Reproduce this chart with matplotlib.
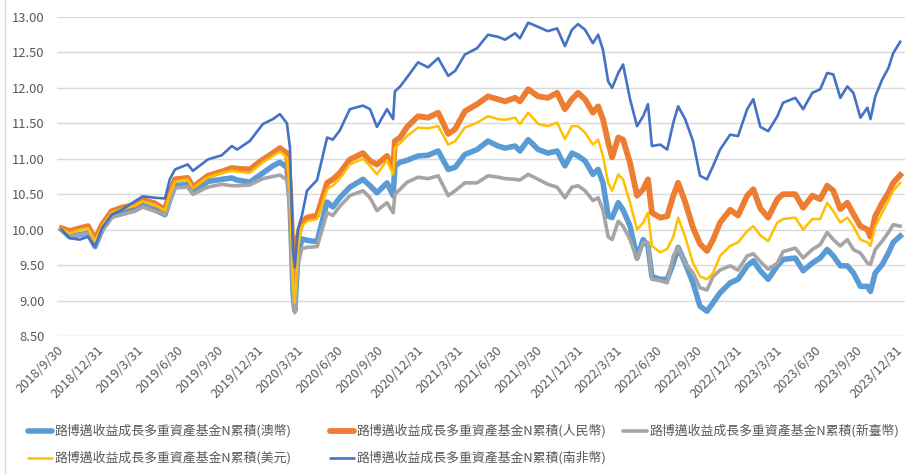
import datetime as dt
import matplotlib
matplotlib.use("Agg")
import matplotlib.pyplot as plt
from matplotlib.lines import Line2D

plt.rcParams['font.family'] = ['Noto Sans CJK TC', 'DejaVu Sans']

# ---- data ----
dates = [
    "2018-09-30", "2018-10-18", "2018-11-10", "2018-11-29", "2018-12-15", "2018-12-31",
    "2019-01-22", "2019-02-14", "2019-03-16", "2019-04-03", "2019-05-01", "2019-05-24",
    "2019-06-04", "2019-06-16", "2019-07-15", "2019-07-27", "2019-08-30", "2019-10-01",
    "2019-10-24", "2019-11-05", "2019-12-04", "2020-01-03", "2020-01-26", "2020-02-11",
    "2020-02-27", "2020-03-05", "2020-03-09", "2020-03-12", "2020-03-16", "2020-03-23",
    "2020-04-01", "2020-04-13", "2020-05-06", "2020-05-29", "2020-06-11", "2020-06-27",
    "2020-07-20", "2020-08-19", "2020-09-04", "2020-09-20", "2020-10-13", "2020-10-27",
    "2020-10-31", "2020-11-12", "2020-11-28", "2020-12-23", "2021-01-15", "2021-02-07",
    "2021-03-02", "2021-03-18", "2021-04-09", "2021-05-07", "2021-06-01", "2021-06-24",
    "2021-07-10", "2021-08-02", "2021-08-13", "2021-09-01", "2021-09-24", "2021-10-16",
    "2021-11-06", "2021-11-24", "2021-12-10", "2021-12-24", "2022-01-09", "2022-01-27",
    "2022-02-08", "2022-02-19", "2022-03-03", "2022-03-12", "2022-03-26", "2022-04-06",
    "2022-04-22", "2022-05-08", "2022-05-22", "2022-06-02", "2022-06-11", "2022-06-30",
    "2022-07-16", "2022-07-30", "2022-08-10", "2022-08-26", "2022-09-13", "2022-09-29",
    "2022-10-15", "2022-10-29", "2022-11-14", "2022-12-07", "2022-12-25", "2023-01-15",
    "2023-01-29", "2023-02-14", "2023-03-04", "2023-03-25", "2023-04-07", "2023-05-05",
    "2023-05-23", "2023-06-13", "2023-07-01", "2023-07-17", "2023-07-31", "2023-08-16",
    "2023-09-01", "2023-09-15", "2023-10-01", "2023-10-17", "2023-10-24", "2023-11-04",
    "2023-11-20", "2023-12-04", "2023-12-15", "2023-12-31",
]

aud = [
    10.00, 9.90, 9.93, 9.95, 9.76, 10.00, 10.19, 10.24, 10.28, 10.34, 10.28, 10.21,
    10.42, 10.62, 10.64, 10.52, 10.68, 10.71, 10.73, 10.70, 10.67, 10.80, 10.90, 10.95,
    10.88, 10.40, 9.70, 9.10, 8.86, 9.60, 9.87, 9.85, 9.83, 10.39, 10.32, 10.45,
    10.60, 10.71, 10.62, 10.52, 10.66, 10.48, 10.90, 10.95, 10.98, 11.04, 11.05, 11.11,
    10.85, 10.88, 11.06, 11.13, 11.25, 11.18, 11.15, 11.18, 11.11, 11.27, 11.13, 11.08,
    11.11, 10.90, 11.08, 11.04, 10.97, 10.78, 10.85, 10.66, 10.19, 10.17, 10.38, 10.28,
    10.05, 9.60, 9.86, 9.77, 9.34, 9.30, 9.30, 9.53, 9.75, 9.53, 9.25, 8.92,
    8.85, 8.97, 9.11, 9.25, 9.30, 9.49, 9.56, 9.42, 9.30, 9.49, 9.58, 9.60,
    9.42, 9.53, 9.60, 9.72, 9.63, 9.49, 9.49, 9.39, 9.20, 9.20, 9.13, 9.39,
    9.51, 9.67, 9.82, 9.91,
]

cny = [
    10.02, 9.98, 10.02, 10.05, 9.86, 10.07, 10.26, 10.31, 10.35, 10.42, 10.37, 10.28,
    10.52, 10.71, 10.73, 10.60, 10.76, 10.82, 10.87, 10.86, 10.85, 10.99, 11.08, 11.15,
    11.08, 10.60, 10.00, 9.50, 9.30, 9.90, 10.10, 10.17, 10.20, 10.66, 10.71, 10.80,
    10.99, 11.08, 10.97, 10.92, 11.04, 10.85, 11.25, 11.30, 11.45, 11.60, 11.58, 11.65,
    11.35, 11.42, 11.67, 11.77, 11.88, 11.84, 11.81, 11.86, 11.81, 11.98, 11.88, 11.86,
    11.93, 11.70, 11.84, 11.93, 11.84, 11.65, 11.74, 11.56, 11.23, 11.02, 11.30, 11.27,
    10.94, 10.48, 10.57, 10.71, 10.24, 10.17, 10.19, 10.48, 10.66, 10.39, 10.03, 9.80,
    9.70, 9.86, 10.10, 10.28, 10.20, 10.48, 10.57, 10.30, 10.17, 10.43, 10.50, 10.50,
    10.31, 10.48, 10.43, 10.62, 10.55, 10.29, 10.38, 10.22, 10.05, 10.00, 9.90, 10.19,
    10.38, 10.52, 10.66, 10.77,
]

twd = [
    10.00, 9.90, 9.93, 9.95, 9.76, 9.98, 10.17, 10.21, 10.26, 10.32, 10.26, 10.21,
    10.40, 10.59, 10.60, 10.50, 10.60, 10.64, 10.62, 10.62, 10.63, 10.72, 10.75, 10.77,
    10.70, 10.30, 9.60, 9.05, 8.83, 9.50, 9.73, 9.75, 9.76, 10.24, 10.20, 10.33,
    10.48, 10.55, 10.45, 10.27, 10.38, 10.24, 10.50, 10.57, 10.67, 10.74, 10.72, 10.76,
    10.48, 10.55, 10.66, 10.66, 10.76, 10.74, 10.72, 10.71, 10.70, 10.78, 10.71, 10.64,
    10.60, 10.45, 10.60, 10.62, 10.55, 10.41, 10.45, 10.28, 9.90, 9.86, 10.12, 10.05,
    9.86, 9.58, 9.82, 9.82, 9.30, 9.28, 9.25, 9.63, 9.75, 9.53, 9.39, 9.18,
    9.15, 9.34, 9.43, 9.49, 9.43, 9.63, 9.66, 9.55, 9.44, 9.53, 9.69, 9.74,
    9.60, 9.72, 9.79, 9.96, 9.86, 9.77, 9.86, 9.72, 9.67, 9.53, 9.51, 9.72,
    9.84, 9.96, 10.07, 10.05,
]

usd = [
    10.01, 9.95, 10.00, 10.02, 9.84, 10.05, 10.24, 10.29, 10.34, 10.40, 10.35, 10.27,
    10.50, 10.68, 10.71, 10.59, 10.74, 10.80, 10.83, 10.82, 10.80, 10.95, 11.04, 11.10,
    11.02, 10.50, 9.80, 9.20, 8.97, 9.75, 10.05, 10.12, 10.15, 10.57, 10.62, 10.72,
    10.92, 11.00, 10.90, 10.78, 10.98, 10.78, 11.15, 11.22, 11.32, 11.44, 11.43, 11.46,
    11.20, 11.25, 11.44, 11.51, 11.60, 11.56, 11.55, 11.58, 11.49, 11.65, 11.49, 11.46,
    11.51, 11.28, 11.46, 11.46, 11.37, 11.20, 11.27, 11.04, 10.66, 10.55, 10.78, 10.71,
    10.38, 10.00, 10.10, 10.24, 9.77, 9.68, 9.73, 9.90, 10.17, 9.90, 9.53, 9.34,
    9.30, 9.39, 9.63, 9.77, 9.82, 9.98, 10.05, 9.92, 9.84, 10.10, 10.15, 10.17,
    10.00, 10.15, 10.15, 10.38, 10.26, 10.10, 10.17, 10.05, 9.86, 9.82, 9.77, 10.05,
    10.24, 10.41, 10.55, 10.66,
]

zar = [
    10.00, 9.88, 9.86, 9.90, 9.76, 10.02, 10.21, 10.28, 10.40, 10.47, 10.45, 10.44,
    10.71, 10.85, 10.92, 10.83, 10.99, 11.05, 11.18, 11.13, 11.25, 11.49, 11.56, 11.63,
    11.50, 11.15, 10.30, 9.70, 9.47, 10.00, 10.19, 10.55, 10.70, 11.30, 11.27, 11.40,
    11.70, 11.75, 11.70, 11.45, 11.70, 11.56, 11.95, 12.02, 12.15, 12.36, 12.29, 12.42,
    12.17, 12.24, 12.47, 12.56, 12.75, 12.72, 12.68, 12.77, 12.70, 12.92, 12.86, 12.80,
    12.84, 12.59, 12.82, 12.90, 12.82, 12.63, 12.75, 12.54, 12.09, 12.00, 12.21, 12.33,
    11.84, 11.46, 11.60, 11.77, 11.18, 11.20, 11.13, 11.51, 11.74, 11.56, 11.25, 10.76,
    10.71, 10.90, 11.13, 11.34, 11.32, 11.70, 11.84, 11.45, 11.39, 11.60, 11.79, 11.86,
    11.70, 11.93, 11.98, 12.21, 12.19, 11.86, 12.02, 11.93, 11.58, 11.72, 11.56, 11.88,
    12.12, 12.28, 12.49, 12.65,
]

labels = [
    "路博邁收益成長多重資產基金N累積(澳幣)",
    "路博邁收益成長多重資產基金N累積(人民幣)",
    "路博邁收益成長多重資產基金N累積(新臺幣)",
    "路博邁收益成長多重資產基金N累積(美元)",
    "路博邁收益成長多重資產基金N累積(南非幣)",
]
tick_dates = [
    "2018-09-30", "2018-12-31", "2019-03-31", "2019-06-30", "2019-09-30", "2019-12-31",
    "2020-03-31", "2020-06-30", "2020-09-30", "2020-12-31", "2021-03-31", "2021-06-30",
    "2021-09-30", "2021-12-31", "2022-03-31", "2022-06-30", "2022-09-30", "2022-12-31",
    "2023-03-31", "2023-06-30", "2023-09-30", "2023-12-31",
]

colors = ["#5B9BD5", "#ED7D31", "#A5A5A5", "#FFC000", "#4472C4"]
widths = [4.0, 4.2, 2.6, 1.8, 1.9]

W, H = 907, 474

# ---- plot ----
x = [dt.datetime.strptime(d, "%Y-%m-%d") for d in dates]
ticks = [dt.datetime.strptime(d, "%Y-%m-%d") for d in tick_dates]

fig = plt.figure(figsize=(W / 100, H / 100), dpi=100)
ax = fig.add_axes([57 / W, 1 - 336 / H, 848 / W, 319 / H])

for vals, c, w, lab in zip([aud, cny, twd, usd, zar], colors, widths, labels):
    ax.plot(x, vals, color=c, lw=w, label=lab, solid_joinstyle="round")

ax.set_ylim(8.5, 13.0)
ax.set_yticks([8.5 + 0.5 * i for i in range(10)])
ax.yaxis.set_major_formatter(plt.FuncFormatter(lambda v, p: f"{v:.2f}"))
ax.set_xlim(dt.datetime(2018, 9, 19), dt.datetime(2024, 1, 11))
ax.set_xticks(ticks)
ax.set_xticklabels([f"{d.year}/{d.month}/{d.day}" for d in ticks],
                   rotation=45, ha="right", va="center", rotation_mode="anchor")

ax.grid(True, axis="y", color="#D9D9D9", lw=1.0)
ax.set_axisbelow(True)
for s in ax.spines.values():
    s.set_visible(False)
ax.tick_params(axis="both", length=0, colors="#595959", labelsize=9.3)
ax.tick_params(axis="y", pad=9)
ax.tick_params(axis="x", pad=9)

# legend, laid out like Excel's: fixed slots, two rows
slots = [(28, 431), (330, 431), (623, 431), (28, 458), (330, 458)]
for (px, py), c, w, lab in zip(slots, colors, widths, labels):
    yf = 1 - py / H
    fig.add_artist(Line2D([px / W, (px + 24) / W], [yf, yf], color=c, lw=w,
                          solid_capstyle="round"))
    fig.text((px + 27) / W, yf, lab, fontsize=9.3, color="#595959",
             ha="left", va="center")

# chart border on the left edge
fig.add_artist(Line2D([5 / W, 5 / W], [0, 1], color="#D9D9D9", lw=1))

fig.savefig("out.png", dpi=100)
